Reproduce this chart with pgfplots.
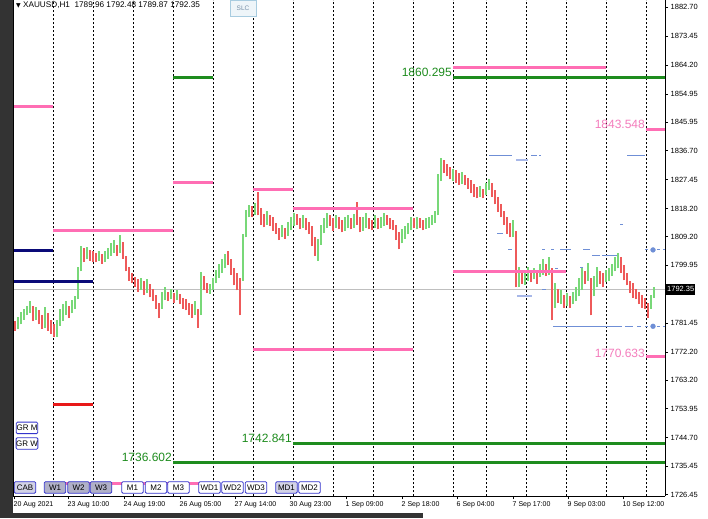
\documentclass[border=0pt]{standalone}
\usepackage{fontspec}
\setmainfont{Liberation Sans}
\newfontfamily\dejavu{DejaVu Sans}
\usepackage{pgfplots}
\usepackage{pgfplotstable}
\pgfplotsset{compat=1.18}

\definecolor{upc}{HTML}{78D878}
\definecolor{dnc}{HTML}{EE5A5A}
\definecolor{lvlpink}{HTML}{FF6EB4}
\definecolor{txtpink}{HTML}{F47CBC}
\definecolor{lvlgreen}{HTML}{1E8C1E}
\definecolor{lvlnavy}{HTML}{0A0A78}
\definecolor{lvlred}{HTML}{E81818}
\definecolor{lvlblue}{HTML}{6F8FD6}
\definecolor{lvllav}{HTML}{A8B8E8}
\definecolor{btnb}{HTML}{3333CC}
\definecolor{btnf}{HTML}{B0B0C8}
\definecolor{btnl}{HTML}{D2D2E6}
\definecolor{slcb}{HTML}{A8CCE0}
\definecolor{slcf}{HTML}{EEF5F9}
\definecolor{slct}{HTML}{7890A8}
\definecolor{framec}{HTML}{333333}

% hourly bars, x in screen columns: x low high up(1)/down(0)
\pgfplotstableread[row sep=\\]{
x lo hi c \\
15 1779.0 1782.0 0 \\ 18 1779.5 1783.5 1 \\ 21 1781.0 1785.0 1 \\ 24 1782.5 1786.0 1 \\
27 1784.0 1787.0 1 \\ 30 1784.5 1788.5 1 \\ 33 1782.0 1787.0 0 \\ 36 1782.5 1786.5 1 \\
39 1781.0 1785.5 0 \\ 42 1779.5 1784.0 0 \\ 45 1780.0 1786.5 1 \\ 48 1779.0 1784.5 0 \\
51 1778.0 1782.5 0 \\ 54 1776.8 1781.0 0 \\ 57 1777.0 1782.5 1 \\ 60 1780.5 1786.0 1 \\
63 1782.0 1787.5 1 \\ 66 1784.0 1788.5 1 \\ 69 1783.0 1787.0 0 \\ 72 1784.5 1788.7 1 \\
75 1786.0 1790.0 1 \\ 78 1789.0 1799.5 1 \\ 81 1798.0 1806.3 1 \\ 84 1801.0 1805.5 0 \\
87 1802.0 1805.7 1 \\ 90 1801.5 1805.0 0 \\ 93 1801.0 1804.5 0 \\ 96 1800.9 1804.0 0 \\
99 1801.5 1804.7 1 \\ 102 1800.5 1803.5 0 \\ 105 1801.0 1804.5 1 \\ 108 1802.0 1805.5 1 \\
111 1803.0 1807.0 1 \\ 114 1804.0 1808.0 1 \\ 117 1803.0 1806.5 0 \\ 120 1804.0 1809.6 1 \\
123 1802.0 1807.5 0 \\ 126 1798.0 1803.0 0 \\ 129 1795.0 1799.5 0 \\ 132 1794.2 1797.5 0 \\
135 1793.0 1796.1 0 \\ 138 1791.5 1795.5 0 \\ 141 1792.0 1796.0 1 \\ 144 1790.5 1795.0 0 \\
147 1791.0 1795.5 1 \\ 150 1789.7 1794.0 0 \\ 153 1788.5 1792.5 0 \\ 156 1786.0 1790.5 0 \\
159 1782.9 1788.0 0 \\ 162 1786.0 1791.5 1 \\ 165 1788.7 1792.9 1 \\ 168 1788.5 1791.5 0 \\
171 1789.0 1792.5 1 \\ 174 1788.0 1791.0 0 \\ 177 1788.7 1792.0 1 \\ 180 1787.5 1790.9 0 \\
183 1786.0 1789.5 0 \\ 186 1785.5 1789.0 0 \\ 189 1784.0 1788.0 0 \\ 192 1783.2 1787.5 0 \\
195 1784.0 1788.5 1 \\ 198 1780.0 1786.0 0 \\ 201 1784.0 1797.7 1 \\ 204 1792.0 1796.5 0 \\
207 1791.0 1794.2 0 \\ 210 1790.9 1794.0 1 \\ 213 1792.0 1796.0 1 \\ 216 1794.2 1798.5 1 \\
219 1796.0 1800.5 1 \\ 222 1797.5 1802.0 1 \\ 225 1799.0 1803.5 1 \\ 228 1800.0 1804.7 0 \\
231 1797.0 1802.0 0 \\ 234 1793.5 1799.0 0 \\ 237 1791.9 1797.5 0 \\ 240 1783.9 1796.0 0 \\
243 1795.0 1810.0 1 \\ 246 1808.9 1817.6 1 \\ 249 1815.3 1819.2 1 \\ 252 1815.5 1819.0 0 \\
255 1816.0 1820.0 1 \\ 258 1816.0 1823.4 0 \\ 261 1813.0 1818.5 0 \\ 264 1812.1 1816.5 0 \\
267 1813.0 1817.5 1 \\ 270 1812.5 1816.0 0 \\ 273 1811.0 1815.3 0 \\ 276 1810.0 1813.5 0 \\
279 1808.0 1812.0 0 \\ 282 1809.0 1813.0 1 \\ 285 1808.5 1812.0 0 \\ 288 1809.5 1814.0 1 \\
291 1811.2 1815.5 1 \\ 294 1812.5 1816.9 1 \\ 297 1813.0 1816.5 0 \\ 300 1811.5 1815.0 0 \\
303 1812.0 1816.0 1 \\ 306 1811.2 1815.0 0 \\ 309 1810.0 1814.0 0 \\ 312 1806.0 1812.5 0 \\
315 1803.0 1809.0 0 \\ 318 1801.5 1808.5 1 \\ 321 1806.5 1813.0 1 \\ 324 1810.2 1815.0 1 \\
327 1812.0 1816.6 1 \\ 330 1812.5 1816.0 0 \\ 333 1811.0 1815.0 0 \\ 336 1812.0 1816.0 1 \\
339 1811.5 1815.5 0 \\ 342 1810.5 1814.5 0 \\ 345 1811.0 1815.5 1 \\ 348 1812.0 1816.0 1 \\
351 1811.5 1815.0 0 \\ 354 1812.0 1816.5 1 \\ 357 1813.0 1820.2 0 \\ 360 1810.5 1815.5 0 \\
363 1811.0 1815.5 1 \\ 366 1812.0 1816.6 1 \\ 369 1811.5 1815.0 0 \\ 372 1811.2 1814.5 0 \\
375 1812.0 1816.0 1 \\ 378 1811.5 1815.0 0 \\ 381 1812.0 1815.5 1 \\ 384 1812.5 1816.6 1 \\
387 1813.0 1816.0 0 \\ 390 1811.5 1815.0 0 \\ 393 1811.2 1814.5 0 \\ 396 1808.0 1813.0 0 \\
399 1805.1 1810.5 0 \\ 402 1807.0 1811.5 1 \\ 405 1808.5 1812.5 1 \\ 408 1810.0 1813.5 1 \\
411 1811.2 1815.3 1 \\ 414 1812.0 1815.0 0 \\ 417 1811.5 1815.3 1 \\ 420 1812.0 1815.0 0 \\
423 1811.2 1814.5 0 \\ 426 1811.5 1815.0 1 \\ 429 1812.0 1815.3 1 \\ 432 1813.0 1816.0 1 \\
435 1813.5 1817.5 1 \\ 438 1816.0 1829.4 1 \\ 441 1827.0 1834.3 1 \\ 444 1829.5 1833.6 0 \\
447 1828.5 1832.5 0 \\ 450 1827.5 1831.4 0 \\ 453 1827.0 1831.0 1 \\ 456 1826.5 1830.5 0 \\
459 1825.6 1829.5 0 \\ 462 1826.0 1830.0 1 \\ 465 1825.6 1829.0 0 \\ 468 1824.5 1828.0 0 \\
471 1823.0 1827.2 0 \\ 474 1822.0 1826.0 0 \\ 477 1821.4 1825.0 0 \\ 480 1822.0 1825.5 1 \\
483 1821.4 1824.5 0 \\ 486 1822.5 1826.5 1 \\ 489 1824.0 1827.8 1 \\ 492 1822.0 1826.5 0 \\
495 1819.5 1824.0 0 \\ 498 1817.0 1822.0 0 \\ 501 1815.3 1819.5 0 \\ 504 1813.0 1817.5 0 \\
507 1810.0 1815.3 0 \\ 510 1808.9 1813.5 0 \\ 513 1809.0 1814.4 1 \\ 516 1792.9 1811.0 0 \\
519 1793.0 1799.3 1 \\ 522 1794.0 1798.5 0 \\ 525 1793.5 1797.5 1 \\ 528 1795.0 1799.3 1 \\
531 1794.5 1798.5 0 \\ 534 1795.5 1799.0 1 \\ 537 1794.0 1798.0 0 \\ 540 1796.1 1800.5 1 \\
543 1797.0 1802.0 1 \\ 546 1796.5 1800.5 0 \\ 549 1797.0 1802.5 1 \\ 552 1782.3 1799.0 0 \\
555 1786.4 1794.2 1 \\ 558 1788.0 1792.5 0 \\ 561 1787.5 1791.9 1 \\ 564 1786.4 1790.5 0 \\
567 1787.0 1791.0 1 \\ 570 1786.4 1790.0 0 \\ 573 1787.5 1791.5 1 \\ 576 1788.5 1793.0 1 \\
579 1790.0 1796.0 1 \\ 582 1792.0 1799.3 1 \\ 585 1794.0 1798.0 0 \\ 588 1795.0 1800.6 1 \\
591 1783.9 1796.0 0 \\ 594 1790.0 1796.5 1 \\ 597 1793.0 1799.3 1 \\ 600 1794.0 1798.0 0 \\
603 1793.0 1797.5 0 \\ 606 1794.5 1798.5 1 \\ 609 1795.0 1799.0 1 \\ 612 1796.5 1800.5 1 \\
615 1798.0 1802.5 1 \\ 618 1799.0 1803.8 1 \\ 621 1797.5 1802.5 0 \\ 624 1795.1 1800.0 0 \\
627 1793.5 1797.5 0 \\ 630 1791.0 1795.0 0 \\ 633 1789.5 1794.2 0 \\ 636 1789.0 1792.5 0 \\
639 1787.5 1791.5 0 \\ 642 1786.4 1790.5 0 \\ 645 1786.0 1789.5 0 \\ 648 1783.2 1788.0 0 \\
651 1786.0 1790.5 1 \\ 654 1789.5 1792.9 1 \\
}\bars

\tikzset{btn/.style={draw=btnb, rounded corners=1.2pt, line width=0.8pt, inner sep=0pt,
  minimum width=21.5pt, minimum height=11.5pt, font=\fontsize{8}{9}\selectfont}}

\begin{document}
\begin{tikzpicture}
\fill[white] (-13pt,-22pt) rectangle (695pt,496pt);
\fill[framec] (-13pt,-22pt) rectangle (0pt,496pt);
\fill[framec] (-13pt,-22pt) rectangle (410pt,-17pt);
\begin{axis}[
  at={(0pt,0pt)}, anchor=south west,
  scale only axis, width=652pt, height=496pt,
  xmin=13, xmax=665, ymin=1725.82, ymax=1884.95,
  axis x line*=bottom, axis y line*=right,
  axis line style={black, line width=0.8pt},
  tick align=outside, major tick length=3pt,
  tick style={black, line width=0.6pt},
  xtick={14,68,124,180,235,290,346,402,457,513,568,623},
  xticklabels={20 Aug 2021, 23 Aug 10:00, 24 Aug 19:00, 26 Aug 05:00, 27 Aug 14:00,
    30 Aug 23:00, 1 Sep 09:00, 2 Sep 18:00, 6 Sep 04:00, 7 Sep 17:00, 9 Sep 03:00, 10 Sep 12:00},
  xticklabel style={anchor=north west, inner sep=0pt, xshift=-0.5pt, yshift=-2pt,
    font=\fontsize{7}{8}\selectfont},
  ytick={1882.70,1873.45,1864.20,1854.95,1845.95,1836.70,1827.45,1818.20,1809.20,
    1799.95,1790.70,1781.45,1772.20,1763.20,1753.95,1744.70,1735.45,1726.45},
  yticklabels={1882.70,1873.45,1864.20,1854.95,1845.95,1836.70,1827.45,1818.20,1809.20,
    1799.95,,1781.45,1772.20,1763.20,1753.95,1744.70,1735.45,1726.45},
  yticklabel style={anchor=west, inner sep=0pt, xshift=2.5pt, font=\fontsize{7.5}{9}\selectfont},
  extra x ticks={53,93,133,173,213,253,293,333,373,413,453,486,526,566,606,646},
  extra x tick labels={},
  extra x tick style={grid=major, major tick length=0pt},
  major grid style={black, line width=0.8pt, dash pattern=on 2pt off 2pt},
  clip=false,
  unbounded coords=jump,
]
% last price line
\addplot[black!25, line width=0.8pt, forget plot] coordinates {(13,1792.35) (665,1792.35)};

% bars
\addplot[draw=none, mark=none, forget plot, restrict expr to domain={\thisrow{c}}{0.5:1.5},
  error bars/.cd, y dir=plus, y explicit, error mark=none,
  error bar style={draw=upc, line width=1.6pt}]
  table[x=x, y=lo, y error expr=\thisrow{hi}-\thisrow{lo}] {\bars};
\addplot[draw=none, mark=none, forget plot, restrict expr to domain={\thisrow{c}}{-0.5:0.5},
  error bars/.cd, y dir=plus, y explicit, error mark=none,
  error bar style={draw=dnc, line width=1.6pt}]
  table[x=x, y=lo, y error expr=\thisrow{hi}-\thisrow{lo}] {\bars};

% levels
\addplot[lvlpink, line width=2.6pt, forget plot] coordinates {
 (13,1850.95) (53,1850.95) (53,nan)
 (53,1811.17) (173,1811.17) (173,nan)
 (173,1826.56) (213,1826.56) (213,nan)
 (253,1824.32) (293,1824.32) (293,nan)
 (293,1818.22) (413,1818.22) (413,nan)
 (253,1772.99) (413,1772.99) (413,nan)
 (453,1798.01) (566,1798.01) (566,nan)
 (453,1863.46) (606,1863.46) (606,nan)
 (646,1843.548) (665,1843.548) (665,nan)
 (646,1770.633) (665,1770.633) (665,nan)
 (53,1730.0) (213,1730.0)};
\addplot[lvlgreen, line width=2.6pt, forget plot] coordinates {
 (173,1860.3) (213,1860.3) (213,nan)
 (453,1860.295) (665,1860.295) (665,nan)
 (293,1742.841) (665,1742.841) (665,nan)
 (173,1736.602) (665,1736.602)};
\addplot[lvlnavy, line width=2.6pt, forget plot] coordinates {
 (13,1804.75) (53,1804.75) (53,nan)
 (13,1794.8) (93,1794.8)};
\addplot[lvlred, line width=2.6pt, forget plot] coordinates {(53,1755.35) (93,1755.35)};

% blue marks
\addplot[lvlblue, line width=1.1pt, forget plot] coordinates {
 (489,1835.2) (512,1835.2) (512,nan)
 (531,1835.2) (537,1835.2) (537,nan)
 (539,1835.2) (541,1835.2) (541,nan)
 (627,1835.2) (645,1835.2) (645,nan)
 (497,1810.2) (503,1810.2) (503,nan)
 (508,1805.0) (512,1805.0) (512,nan)
 (542,1805.0) (545,1805.0) (545,nan)
 (551,1805.0) (554,1805.0) (554,nan)
 (560,1805.0) (571,1805.0) (571,nan)
 (583,1805.0) (590,1805.0) (590,nan)
 (592,1803.1) (600,1803.1) (600,nan)
 (602,1803.1) (617,1803.1) (617,nan)
 (620,1813.1) (623,1813.1) (623,nan)
 (555,1799.0) (558,1799.0) (558,nan)
 (580,1799.3) (583,1799.3) (583,nan)
 (542,1792.2) (546,1792.2) (546,nan)
 (553,1780.4) (622,1780.4) (622,nan)
 (625,1780.4) (633,1780.4) (633,nan)
 (637,1780.4) (641,1780.4)};
\addplot[lvlblue, line width=1pt, dash pattern=on 3pt off 3pt, forget plot] coordinates {
 (645,1780.4) (665,1780.4) (665,nan) (645,1804.9) (665,1804.9)};
\addplot[lvllav, line width=2pt, forget plot] coordinates {
 (516,1833.9) (528,1833.9) (528,nan) (517,1790.0) (532,1790.0)};
\addplot[only marks, mark=*, mark size=2.4pt, lvlblue, forget plot] coordinates {(653,1804.9) (653,1780.4)};

% level labels
\node[lvlgreen, anchor=base east, inner sep=0pt, font=\fontsize{12}{14}\selectfont] at (axis cs:452,1860.6) {1860.295};
\node[lvlgreen, anchor=base east, inner sep=0pt, font=\fontsize{12}{14}\selectfont] at (axis cs:292,1743.1) {1742.841};
\node[lvlgreen, anchor=base east, inner sep=0pt, font=\fontsize{12}{14}\selectfont] at (axis cs:172,1736.9) {1736.602};
\node[txtpink, anchor=base east, inner sep=0pt, font=\fontsize{12}{14}\selectfont] at (axis cs:645,1843.9) {1843.548};
\node[txtpink, anchor=base east, inner sep=0pt, font=\fontsize{12}{14}\selectfont] at (axis cs:645,1770.4) {1770.633};

% price box
\node[fill=black, text=white, anchor=west, inner sep=1pt, minimum height=11pt,
  font=\fontsize{7.5}{9}\selectfont] at (axis cs:666,1792.35) {1792.35};

% header and buttons
\node[anchor=west, inner sep=0pt, font=\fontsize{8.2}{10}\selectfont] at (axis cs:16,1883.3)
  {{\dejavu\fontsize{6}{7}\selectfont ▼}\ XAUUSD,H1\ \ 1789.96 1792.48 1789.87 1792.35};
\node[draw=slcb, fill=slcf, text=slct, minimum width=26pt, minimum height=16pt, inner sep=0pt,
  font=\fontsize{6.5}{8}\selectfont] at (axis cs:243,1882.4) {SLC};
\node[btn, fill=btnl] at (axis cs:25,1728.7) {CAB};
\node[btn, fill=btnf] at (axis cs:55,1728.7) {W1};
\node[btn, fill=btnf] at (axis cs:78.5,1728.7) {W2};
\node[btn, fill=btnf] at (axis cs:101,1728.7) {W3};
\node[btn, fill=white] at (axis cs:132.5,1728.7) {M1};
\node[btn, fill=white] at (axis cs:156,1728.7) {M2};
\node[btn, fill=white] at (axis cs:178.5,1728.7) {M3};
\node[btn, fill=white] at (axis cs:209.5,1728.7) {WD1};
\node[btn, fill=white] at (axis cs:232.5,1728.7) {WD2};
\node[btn, fill=white] at (axis cs:256,1728.7) {WD3};
\node[btn, fill=btnl] at (axis cs:286.5,1728.7) {MD1};
\node[btn, fill=white] at (axis cs:309.5,1728.7) {MD2};
\node[btn, fill=white] at (axis cs:27,1747.8) {GR M};
\node[btn] at (axis cs:27,1742.8) {GR W};
\end{axis}
\draw[black, line width=0.8pt] (0pt,0pt) -- (0pt,496pt);
\end{tikzpicture}
\end{document}
